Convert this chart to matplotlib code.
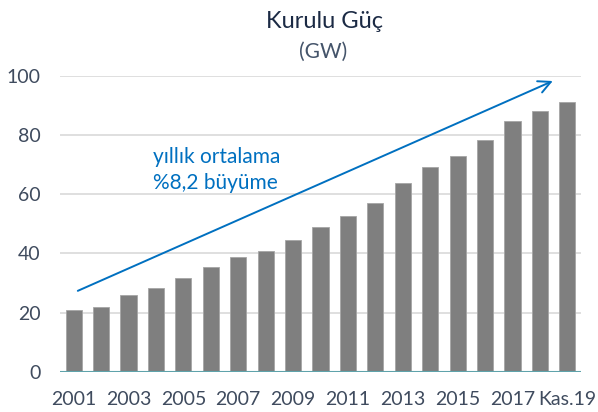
import numpy as np
import matplotlib
matplotlib.use('Agg')
import matplotlib.pyplot as plt

plt.rcParams['font.family'] = ['Lato', 'DejaVu Sans']

# Installed capacity (GW)
years = ['2001', '2002', '2003', '2004', '2005', '2006', '2007', '2008', '2009', '2010',
         '2011', '2012', '2013', '2014', '2015', '2016', '2017', '2018', 'Kas.19']
capacity = [21.0, 21.9, 26.0, 28.3, 31.8, 35.3, 38.8, 40.7, 44.6, 49.0,
            52.5, 56.9, 63.9, 69.3, 72.8, 78.2, 84.6, 88.1, 91.0]
shown_labels = ['2001', '2003', '2005', '2007', '2009', '2011', '2013', '2015', '2017', 'Kas.19']

# trend arrow endpoints (bar index, value)
arrow_start = (0.15, 27.4)
arrow_end = (17.47, 98.2)

blue = '#0070C0'
text_col = '#3F4B5E'

fig = plt.figure(figsize=(5.98, 4.12), dpi=100)
ax = fig.add_axes([0.1003, 0.097, 0.8713, 0.7193])

x = np.arange(len(years))
ax.bar(x, capacity, width=0.59, color='#7F7F7F', edgecolor='#A6A6A6', linewidth=0.6, zorder=3)

ax.set_xlim(-0.5, len(years) - 0.5)
ax.set_ylim(0, 100)
ax.set_yticks(np.arange(0, 101, 20))
ax.yaxis.grid(True, color='#D9D9D9', linewidth=1.2, zorder=0)
ax.axhline(0, color='#5FA3AB', linewidth=1.5, zorder=4)

ax.set_xticks([years.index(l) for l in shown_labels])
ax.set_xticklabels(shown_labels)
ax.tick_params(axis='both', length=0, labelsize=14, colors=text_col)
ax.tick_params(axis='x', pad=14)
ax.tick_params(axis='y', pad=14)
for s in ax.spines.values():
    s.set_visible(False)

ax.annotate('', xy=arrow_end, xytext=arrow_start,
            arrowprops=dict(arrowstyle='->', color=blue, lw=1.4,
                            mutation_scale=22, shrinkA=0, shrinkB=0), zorder=5)

ax.text(2.89, 72.6, 'yıllık ortalama', color=blue, fontsize=15, va='center', ha='left')
ax.text(2.89, 63.8, '%8,2 büyüme', color=blue, fontsize=15, va='center', ha='left')

fig.text(0.543, 0.948, 'Kurulu Güç', ha='center', va='center', fontsize=17, color='#1B2A44')
fig.text(0.54, 0.875, '(GW)', ha='center', va='center', fontsize=15, color='#44546A')

fig.savefig('out.png', dpi=100)
